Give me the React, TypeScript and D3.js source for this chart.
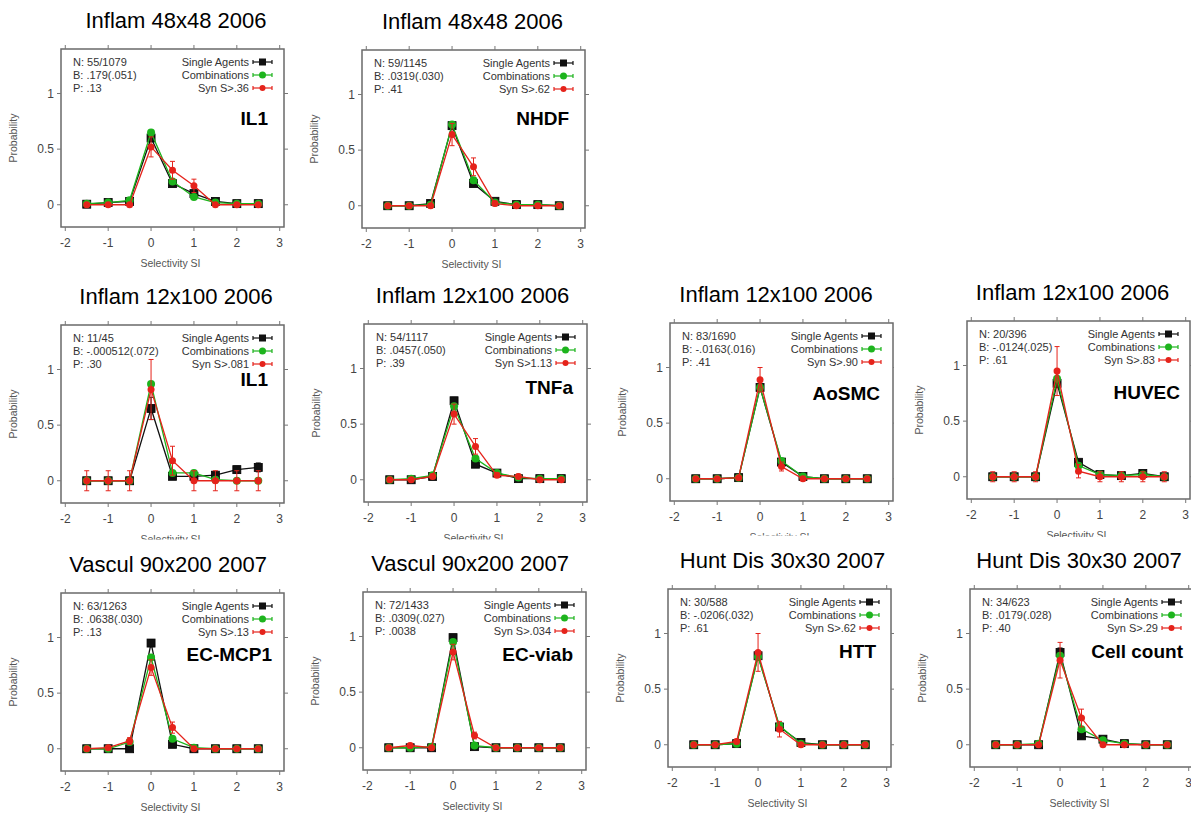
import React from "react";
import * as d3 from "d3";

const W = 1191;
const H = 816;

const xValues = [-1.5, -1, -0.5, 0, 0.5, 1, 1.5, 2, 2.5];
const xTicks = [-2, -1, 0, 1, 2, 3];
const yTicks = [0, 0.5, 1];
const yTickLabels = ["0", "0.5", "1"];

const panelTitles = [
  "Inflam 48x48 2006", "Inflam 48x48 2006",
  "Inflam 12x100 2006", "Inflam 12x100 2006", "Inflam 12x100 2006", "Inflam 12x100 2006",
  "Vascul 90x200 2007", "Vascul 90x200 2007", "Hunt Dis 30x30 2007", "Hunt Dis 30x30 2007",
];
const panelLabels = ["IL1", "NHDF", "IL1", "TNFa", "AoSMC", "HUVEC", "EC-MCP1", "EC-viab", "HTT", "Cell count"];
const statN = ["55/1079", "59/1145", "11/45", "54/1117", "83/1690", "20/396", "63/1263", "72/1433", "30/588", "34/623"];
const statB = [".179(.051)", ".0319(.030)", "-.000512(.072)", ".0457(.050)", "-.0163(.016)", "-.0124(.025)", ".0638(.030)", ".0309(.027)", "-.0206(.032)", ".0179(.028)"];
const statP = [".13", ".41", ".30", ".39", ".41", ".61", ".13", ".0038", ".61", ".40"];
const synThreshold = [".36", ".62", ".081", "1.13", ".90", ".83", ".13", ".034", ".62", ".29"];

const singleAgents = [
  [0.005, 0.02, 0.03, 0.60, 0.19, 0.10, 0.03, 0.01, 0.01],
  [0, 0, 0.02, 0.72, 0.20, 0.04, 0.01, 0.01, 0],
  [0, 0, 0, 0.65, 0.04, 0.04, 0.05, 0.10, 0.12],
  [0, 0, 0.03, 0.71, 0.14, 0.06, 0.01, 0.01, 0.01],
  [0, 0, 0.01, 0.82, 0.15, 0.02, 0, 0, 0],
  [0, 0, 0, 0.84, 0.13, 0.02, 0.01, 0.03, 0],
  [0, 0, 0, 0.95, 0.04, 0, 0, 0, 0],
  [0, 0, 0, 0.99, 0.01, 0, 0, 0, 0],
  [0, 0, 0.01, 0.80, 0.16, 0.02, 0, 0, 0],
  [0, 0, 0, 0.83, 0.08, 0.05, 0.01, 0, 0],
];
const singleErr = [
  [0.01, 0.01, 0.01, 0.03, 0.02, 0.02, 0.01, 0.01, 0.01],
  [0.01, 0.01, 0.01, 0.03, 0.02, 0.01, 0.01, 0.01, 0.01],
  [0.01, 0.01, 0.01, 0.10, 0.02, 0.02, 0.03, 0.03, 0.04],
  [0.01, 0.01, 0.01, 0.03, 0.02, 0.01, 0.01, 0.01, 0.01],
  [0.01, 0.01, 0.01, 0.02, 0.02, 0.01, 0.01, 0.01, 0.01],
  [0.01, 0.01, 0.01, 0.04, 0.02, 0.01, 0.01, 0.01, 0.01],
  [0.01, 0.01, 0.01, 0.03, 0.02, 0.01, 0.01, 0.01, 0.01],
  [0.01, 0.01, 0.01, 0.01, 0.01, 0.01, 0.01, 0.01, 0.01],
  [0.01, 0.01, 0.01, 0.04, 0.02, 0.01, 0.01, 0.01, 0.01],
  [0.01, 0.01, 0.01, 0.04, 0.02, 0.01, 0.01, 0.01, 0.01],
];
const combinations = [
  [0.01, 0.02, 0.04, 0.65, 0.21, 0.07, 0.02, 0.01, 0.01],
  [0, 0, 0.01, 0.73, 0.23, 0.03, 0.01, 0.01, 0],
  [0, 0, 0, 0.87, 0.07, 0.07, 0.01, 0, 0],
  [0, 0.01, 0.04, 0.66, 0.19, 0.06, 0.02, 0.01, 0.01],
  [0, 0, 0.01, 0.82, 0.16, 0.02, 0, 0, 0],
  [0, 0, 0, 0.88, 0.10, 0.02, 0.01, 0.02, 0],
  [0, 0, 0.06, 0.82, 0.09, 0.01, 0, 0, 0],
  [0, 0, 0.01, 0.95, 0.02, 0, 0, 0, 0],
  [0, 0, 0.01, 0.79, 0.17, 0.01, 0, 0, 0],
  [0, 0, 0.01, 0.80, 0.14, 0.04, 0.01, 0, 0],
];
const synergy = [
  [0, 0, 0, 0.52, 0.31, 0.17, 0, 0, 0],
  [0, 0, 0, 0.64, 0.35, 0.02, 0, 0, 0],
  [0, 0, 0, 0.82, 0.18, 0, 0, 0, 0],
  [0, 0, 0.03, 0.59, 0.30, 0.04, 0.03, 0, 0],
  [0, 0, 0.01, 0.89, 0.11, 0, 0, 0, 0],
  [0, 0, 0, 0.95, 0.05, 0, 0, 0, 0],
  [0, 0.01, 0.07, 0.73, 0.19, 0, 0, 0, 0],
  [0, 0.02, 0, 0.86, 0.11, 0, 0, 0, 0],
  [0, 0, 0.03, 0.83, 0.14, 0, 0, 0, 0],
  [0, 0, 0, 0.76, 0.24, 0, 0, 0, 0],
];
const synergyErr = [
  [0.01, 0.01, 0.01, 0.09, 0.08, 0.06, 0.01, 0.01, 0.01],
  [0.01, 0.01, 0.01, 0.10, 0.08, 0.02, 0.01, 0.01, 0.01],
  [0.09, 0.09, 0.09, 0.27, 0.13, 0.09, 0.09, 0.09, 0.09],
  [0.01, 0.01, 0.02, 0.09, 0.07, 0.02, 0.02, 0.01, 0.01],
  [0.01, 0.01, 0.01, 0.11, 0.04, 0.01, 0.01, 0.01, 0.01],
  [0.045, 0.045, 0.045, 0.22, 0.06, 0.045, 0.045, 0.045, 0.045],
  [0.01, 0.01, 0.03, 0.07, 0.05, 0.01, 0.01, 0.01, 0.01],
  [0.01, 0.02, 0.01, 0.07, 0.03, 0.01, 0.01, 0.01, 0.01],
  [0.01, 0.01, 0.02, 0.17, 0.07, 0.01, 0.01, 0.01, 0.01],
  [0.01, 0.01, 0.01, 0.16, 0.08, 0.01, 0.01, 0.01, 0.01],
];

// layout (pixel positions of each panel)
const BOX_W = 223;
const BOX_H = 178;
const layout = [
  { left: 61, top: 49, tx: 176, lx: -16, ly: 69, bg: null },
  { left: 362, top: 50, tx: 472.5, lx: -16, ly: 68, bg: null },
  { left: 61, top: 325, tx: 176, lx: -16, ly: 54, bg: null },
  { left: 364, top: 324, tx: 472.5, lx: -14, ly: 63, bg: null },
  { left: 670, top: 323, tx: 776, lx: -13, ly: 70, bg: null },
  { left: 967, top: 321, tx: 1072.5, lx: -10, ly: 71, bg: { x: 894, y: 270, w: 297, h: 267 } },
  { left: 61, top: 593, tx: 168, lx: -12, ly: 61, bg: { x: 0, y: 539.5, w: 300, h: 277 } },
  { left: 363, top: 592, tx: 470, lx: -13, ly: 62, bg: { x: 300, y: 539.5, w: 300, h: 277 } },
  { left: 668, top: 589, tx: 782.5, lx: -15, ly: 62, bg: { x: 600, y: 535.5, w: 294, h: 281 } },
  { left: 970, top: 589, tx: 1079, lx: -10, ly: 62, bg: { x: 894, y: 537, w: 297, h: 279 } },
];

const FONT = "'Liberation Sans', Arial, Helvetica, sans-serif";
const BLACK = "#111111";
const GREEN = "#1db41d";
const RED = "#e5231b";

function ErrorBars({ xs, ys, es, x, y, color }) {
  return (
    <g stroke={color} strokeWidth={1}>
      {xs.map((xv, i) => {
        const cx = x(xv);
        const y1 = y(ys[i] + es[i]);
        const y2 = y(ys[i] - es[i]);
        return (
          <g key={i}>
            <line x1={cx} x2={cx} y1={y1} y2={y2} />
            <line x1={cx - 2.5} x2={cx + 2.5} y1={y1} y2={y1} />
            <line x1={cx - 2.5} x2={cx + 2.5} y1={y2} y2={y2} />
          </g>
        );
      })}
    </g>
  );
}

function Panel({ idx }) {
  const L = layout[idx];
  const x = d3.scaleLinear().domain([-2.1, 3.1]).range([L.left, L.left + BOX_W]);
  const y = d3.scaleLinear().domain([-0.2, 1.4]).range([L.top + BOX_H, L.top]);
  const line = d3.line().x((d) => x(d[0])).y((d) => y(d[1]));
  const pts = (arr) => xValues.map((xv, i) => [xv, arr[i]]);
  const right = L.left + BOX_W;
  const legendRows = [
    { text: "Single Agents", color: BLACK, kind: "sq" },
    { text: "Combinations", color: GREEN, kind: "ci" },
    { text: "Syn S>" + synThreshold[idx], color: RED, kind: "red" },
  ];
  const stats = ["N: " + statN[idx], "B: " + statB[idx], "P: " + statP[idx]];
  const tickColor = "#777";
  return (
    <g>
      {L.bg && <rect x={L.bg.x} y={L.bg.y} width={L.bg.w} height={L.bg.h} fill="#fff" />}
      <text x={L.tx} y={L.top - 29} textAnchor="middle" dominantBaseline="central" fontSize={22} fontFamily={FONT} fill="#000">
        {panelTitles[idx]}
      </text>
      <rect x={L.left} y={L.top} width={BOX_W} height={BOX_H} fill="#fff" stroke="#6a6a6a" strokeWidth={1.5} />
      {xTicks.map((t) => (
        <g key={"xt" + t} stroke={tickColor} strokeWidth={1}>
          <line x1={x(t)} x2={x(t)} y1={L.top + BOX_H} y2={L.top + BOX_H + 4} />
          <line x1={x(t)} x2={x(t)} y1={L.top} y2={L.top - 4} />
        </g>
      ))}
      {yTicks.map((t) => (
        <g key={"yt" + t} stroke={tickColor} strokeWidth={1}>
          <line x1={L.left} x2={L.left - 4} y1={y(t)} y2={y(t)} />
          <line x1={right} x2={right + 4} y1={y(t)} y2={y(t)} />
        </g>
      ))}
      {xTicks.map((t) => (
        <text key={"xl" + t} x={x(t)} y={L.top + BOX_H + 16} textAnchor="middle" dominantBaseline="central" fontSize={12} fontFamily={FONT} fill="#444">
          {String(t)}
        </text>
      ))}
      {yTicks.map((t, i) => (
        <text key={"yl" + t} x={L.left - 7} y={y(t)} textAnchor="end" dominantBaseline="central" fontSize={12} fontFamily={FONT} fill="#444">
          {yTickLabels[i]}
        </text>
      ))}
      <text x={L.left + BOX_W / 2 - 2} y={L.top + BOX_H + 36} textAnchor="middle" dominantBaseline="central" fontSize={10.5} fontFamily={FONT} fill="#555">
        Selectivity SI
      </text>
      <text transform={`translate(${L.left - 48},${L.top + BOX_H / 2}) rotate(-90)`} textAnchor="middle" dominantBaseline="central" fontSize={10.5} fontFamily={FONT} fill="#555">
        Probability
      </text>
      {stats.map((s, i) => (
        <text key={"st" + i} x={L.left + 12} y={L.top + 13 + 13 * i} dominantBaseline="central" fontSize={11} fontFamily={FONT} fill="#333">
          {s}
        </text>
      ))}
      {legendRows.map((r, i) => {
        const ly = L.top + 13 + 13 * i;
        const x1 = right - 31;
        const x2 = right - 12;
        const mx = (x1 + x2) / 2;
        return (
          <g key={"lg" + i}>
            <text x={right - 35} y={ly} textAnchor="end" dominantBaseline="central" fontSize={11} fontFamily={FONT} fill="#333">
              {r.text}
            </text>
            <g stroke={r.color} strokeWidth={1.2}>
              <line x1={x1} x2={x2} y1={ly} y2={ly} />
              <line x1={x1} x2={x1} y1={ly - 2} y2={ly + 2} />
              <line x1={x2} x2={x2} y1={ly - 2} y2={ly + 2} />
            </g>
            {r.kind === "sq" && <rect x={mx - 3.5} y={ly - 3.5} width={7} height={7} fill={BLACK} />}
            {r.kind === "ci" && <circle cx={mx} cy={ly} r={3.5} fill={GREEN} />}
            {r.kind === "red" && <circle cx={mx} cy={ly} r={3} fill={RED} />}
          </g>
        );
      })}
      <text x={right + L.lx} y={L.top + L.ly} textAnchor="end" dominantBaseline="central" fontSize={19} fontWeight="bold" fontFamily={FONT} fill="#000">
        {panelLabels[idx]}
      </text>
      {/* single agents */}
      <path d={line(pts(singleAgents[idx]))} fill="none" stroke={BLACK} strokeWidth={1.3} />
      <ErrorBars xs={xValues} ys={singleAgents[idx]} es={singleErr[idx]} x={x} y={y} color={BLACK} />
      {xValues.map((xv, i) => (
        <rect key={"sa" + i} x={x(xv) - 4} y={y(singleAgents[idx][i]) - 4} width={8} height={8} fill={BLACK} stroke="#000" strokeWidth={0.8} />
      ))}
      {/* combinations */}
      <path d={line(pts(combinations[idx]))} fill="none" stroke={GREEN} strokeWidth={1.3} />
      {xValues.map((xv, i) => (
        <circle key={"co" + i} cx={x(xv)} cy={y(combinations[idx][i])} r={4} fill={GREEN} />
      ))}
      {/* synergy */}
      <path d={line(pts(synergy[idx]))} fill="none" stroke={RED} strokeWidth={1.3} />
      <ErrorBars xs={xValues} ys={synergy[idx]} es={synergyErr[idx]} x={x} y={y} color={RED} />
      {xValues.map((xv, i) => (
        <circle key={"sy" + i} cx={x(xv)} cy={y(synergy[idx][i])} r={3.5} fill={RED} />
      ))}
    </g>
  );
}

export default function App() {
  return (
    <svg width={W} height={H} style={{ position: "absolute", left: 0, top: 0, background: "#fff" }}>
      <rect x={0} y={0} width={W} height={H} fill="#fff" />
      {layout.map((_, i) => (
        <Panel key={i} idx={i} />
      ))}
    </svg>
  );
}
